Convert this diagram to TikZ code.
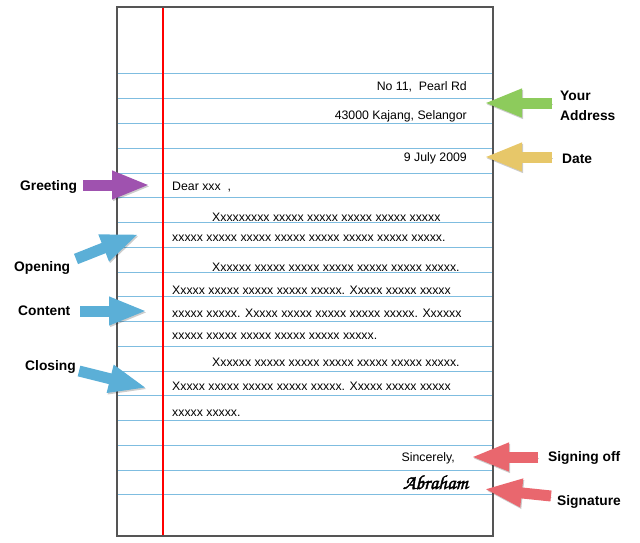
\documentclass[tikz,border=0pt]{standalone}
\usepackage{fontspec}
\setmainfont{Liberation Sans}
\usepackage{tikz}
\usepackage{xcolor}
\usetikzlibrary{arrows.meta}

\definecolor{rulecol}{HTML}{7FBDE0}
\definecolor{pagecol}{HTML}{555555}
\definecolor{greetcol}{HTML}{9F52AF}
\definecolor{partcol}{HTML}{5BAFD7}
\definecolor{addrcol}{HTML}{8DCB5C}
\definecolor{datecol}{HTML}{E7C769}
\definecolor{signcol}{HTML}{E9676E}

\begin{document}
\begin{tikzpicture}[
    x=1pt, y=-1pt,
    letter/.style={inner sep=0pt, font=\fontsize{12.3}{14}\selectfont},
    tag/.style={inner sep=0pt, anchor=base west, font=\fontsize{13.8}{16}\selectfont\bfseries},
    blockarr/.style={line width=11pt, draw=#1,
        -{Triangle[width=26pt,length=38pt]},
        preaction={draw=black, opacity=0.2,
            transform canvas={shift={(1pt,-1.5pt)}}}}
]
\useasboundingbox (0,0) rectangle (640,543);
% the sheet
\foreach \i in {0,...,17}
    \draw [rulecol, line width=1pt] (117,74+24.76*\i) -- (493,74+24.76*\i);
\draw [red, line width=1.3pt] (163,7) -- (163,536);
\draw [pagecol, line width=2pt] (117,7) rectangle (493,536);
% letter text
\node [letter, anchor=base east] at (467, 90.7) (addr1) {No 11,\ \ Pearl Rd};
\node [letter, anchor=base east] at (467,119.3) (addr2) {43000 Kajang, Selangor};
\node [letter, anchor=base east] at (467,161.5) (date) {9 July 2009};
\node [letter, anchor=base west] at (172,190) (dear) {Dear xxx\ \ ,};
\node [letter, anchor=base west] at (212,221) (open1) {Xxxxxxxxx xxxxx xxxxx xxxxx xxxxx xxxxx};
\node [letter, anchor=base west] at (172,241.7) (open2) {xxxxx xxxxx xxxxx xxxxx xxxxx xxxxx xxxxx xxxxx.};
\node [letter, anchor=base west] at (212,271) (body1) {Xxxxxx xxxxx xxxxx xxxxx xxxxx xxxxx xxxxx.};
\node [letter, anchor=base west] at (172,294.3) (body2) {Xxxxx xxxxx xxxxx xxxxx xxxxx. Xxxxx xxxxx xxxxx};
\node [letter, anchor=base west] at (172,317.3) (body3) {xxxxx xxxxx. Xxxxx xxxxx xxxxx xxxxx xxxxx. Xxxxxx};
\node [letter, anchor=base west] at (172,339) (body4) {xxxxx xxxxx xxxxx xxxxx xxxxx xxxxx.};
\node [letter, anchor=base west] at (212,366) (close1) {Xxxxxx xxxxx xxxxx xxxxx xxxxx xxxxx xxxxx.};
\node [letter, anchor=base west] at (172,390.7) (close2) {Xxxxx xxxxx xxxxx xxxxx xxxxx. Xxxxx xxxxx xxxxx};
\node [letter, anchor=base west] at (172,416) (close3) {xxxxx xxxxx.};
\node [letter, anchor=base east] at (455,461.7) (sincere) {Sincerely,};
\node [inner sep=0pt, anchor=base east] at (468,489) (abraham)
    {\usefont{T1}{pzc}{mb}{it}\fontsize{20}{22}\selectfont
     \special{pdf:literal 2 Tr 0.4 w}Abraham\special{pdf:literal 0 Tr}};
% labels
\node [tag] at ( 20,190.7) (greetlbl) {Greeting};
\node [tag] at ( 14,271.7) (openlbl) {Opening};
\node [tag] at ( 18,315.7) (bodylbl) {Content};
\node [tag] at ( 25,370) (closelbl) {Closing};
\node [tag] at (560,100.7) (addrlbl) {Your};
\node [tag] at (560,120) (addrlbl2) {Address};
\node [tag] at (562,163.3) (datelbl) {Date};
\node [tag] at (548,461.7) (signlbl) {Signing off};
\node [tag] at (557,505) (namelbl) {Signature};
% arrow ends
\coordinate (greett) at ( 83,185);
\coordinate (greeth) at (150,185);
\coordinate (opent)  at ( 76,259);
\coordinate (openh)  at (139,234);
\coordinate (bodyt)  at ( 80,311);
\coordinate (bodyh)  at (147,311);
\coordinate (closet) at ( 79,371);
\coordinate (closeh) at (147,388);
\coordinate (addrt)  at (552,103);
\coordinate (addrh)  at (484,103);
\coordinate (datet)  at (552,157);
\coordinate (dateh)  at (484,157);
\coordinate (signt)  at (538,457);
\coordinate (signh)  at (471,457);
\coordinate (namet)  at (551,496);
\coordinate (nameh)  at (484,489);
\draw [blockarr=greetcol] (greett)--(greeth);
\draw [blockarr=partcol] (opent)--(openh);
\draw [blockarr=partcol] (bodyt)--(bodyh);
\draw [blockarr=partcol] (closet)--(closeh);
\draw [blockarr=addrcol] (addrt)--(addrh);
\draw [blockarr=datecol] (datet)--(dateh);
\draw [blockarr=signcol] (signt)--(signh);
\draw [blockarr=signcol] (namet)--(nameh);
\end{tikzpicture}
\end{document}
